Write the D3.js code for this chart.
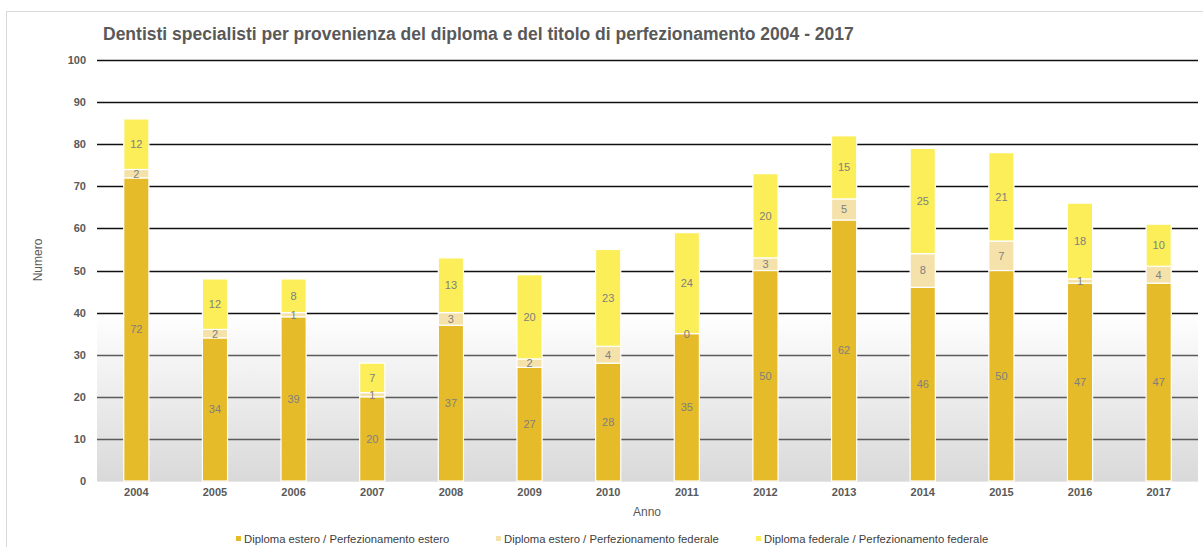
<!DOCTYPE html>
<html><head><meta charset="utf-8">
<script src="https://cdn.jsdelivr.net/npm/d3@7"></script>
<style>body{margin:0;background:#fff;} svg{display:block;font-family:"Liberation Sans",Arial,sans-serif;}</style>
</head><body>
<svg id="c" width="1203" height="547"></svg>
<script>
const years = ["2004","2005","2006","2007","2008","2009","2010","2011","2012","2013","2014","2015","2016","2017"];
const esteroEstero = [72,34,39,20,37,27,28,35,50,62,46,50,47,47];
const esteroFederale = [2,2,1,1,3,2,4,0,3,5,8,7,1,4];
const federaleFederale = [12,12,8,7,13,20,23,24,20,15,25,21,18,10];
const seriesNames = ["Diploma estero / Perfezionamento estero","Diploma estero / Perfezionamento federale","Diploma federale / Perfezionamento federale"];
const colors = ["#E5BB29","#F4E2AA","#FBEE58"];
const yTicks = [0,10,20,30,40,50,60,70,80,90,100];

(function(){
const svg = d3.select("#c");
const pL = 97, pR = 1198, pT = 60, pB = 481;

svg.append("rect").attr("x",6.5).attr("y",11.5).attr("width",1200).attr("height",560)
  .attr("fill","#fff").attr("stroke","#d9d9d9");

const defs = svg.append("defs");
const g = defs.append("linearGradient").attr("id","bg").attr("x1",0).attr("y1",0).attr("x2",0).attr("y2",1);
g.append("stop").attr("offset","0").attr("stop-color","#fff");
g.append("stop").attr("offset","0.6").attr("stop-color","#fff");
g.append("stop").attr("offset","1").attr("stop-color","#d9d9d9");

const x = d3.scaleBand().domain(years).range([pL,pR]).paddingInner(0.68).paddingOuter(0.34);
const y = d3.scaleLinear().domain([0,100]).range([pB,pT]);

svg.append("rect").attr("x",pL).attr("y",pT).attr("width",pR-pL).attr("height",pB-pT).attr("fill","url(#bg)");

svg.append("g").selectAll("line").data(yTicks).join("line")
  .attr("x1",pL).attr("x2",pR)
  .attr("y1",d=>Math.round(y(d))+0.5).attr("y2",d=>Math.round(y(d))+0.5)
  .attr("stroke",d=>d===0?"#e6e6e6":(d<=30?"#5a5a5a":"#111"))
  .attr("stroke-width",d=>d===0?1:1.3);

const yAxis = d3.axisLeft(y).tickValues(yTicks).tickSize(0).tickPadding(0);
const ya = svg.append("g").attr("transform",`translate(86,0)`).call(yAxis);
ya.select(".domain").remove();
ya.selectAll("text").attr("font-size",11).attr("font-weight","bold").attr("fill","#595959").attr("font-family","Liberation Sans, Arial, sans-serif");

const xAxis = d3.axisBottom(x).tickSize(0).tickPadding(0);
const xa = svg.append("g").attr("transform",`translate(0,488)`).call(xAxis);
xa.select(".domain").remove();
xa.selectAll("text").attr("font-size",11).attr("font-weight","bold").attr("fill","#595959").attr("font-family","Liberation Sans, Arial, sans-serif");

const table = years.map((yr,i)=>({year:yr, s0:esteroEstero[i], s1:esteroFederale[i], s2:federaleFederale[i]}));
const stack = d3.stack().keys(["s0","s1","s2"])(table);
const layers = svg.append("g").selectAll("g").data(stack).join("g").attr("fill",(d,i)=>colors[i]);
layers.selectAll("rect").data(d=>d).join("rect")
  .attr("x",d=>x(d.data.year)).attr("width",x.bandwidth())
  .attr("y",d=>y(d[1])).attr("height",d=>y(d[0])-y(d[1]))
  .attr("stroke","#fff").attr("stroke-width",1.2);

const lab = svg.append("g");
stack.forEach(layer=>{
  layer.forEach(d=>{
    lab.append("text").attr("x",x(d.data.year)+x.bandwidth()/2)
      .attr("y",(y(d[0])+y(d[1]))/2).attr("dy","0.35em")
      .attr("text-anchor","middle").attr("font-size",11).attr("fill","#7f7f7f")
      .text(d[1]-d[0]);
  });
});

svg.append("text").attr("x",103).attr("y",39.5).attr("font-size",17.5).attr("font-weight","bold").attr("fill","#595959")
  .text("Dentisti specialisti per provenienza del diploma e del titolo di perfezionamento 2004 - 2017");

svg.append("text").attr("transform","translate(42,260) rotate(-90)").attr("text-anchor","middle")
  .attr("font-size",12).attr("fill","#595959").text("Numero");
svg.append("text").attr("x",647).attr("y",516).attr("text-anchor","middle")
  .attr("font-size",12).attr("fill","#595959").text("Anno");

const legX = [236,496,756];
const leg = svg.append("g").selectAll("g").data(seriesNames).join("g")
  .attr("transform",(d,i)=>`translate(${legX[i]},539)`);
leg.append("rect").attr("x",0).attr("y",-3).attr("width",5).attr("height",5).attr("fill",(d,i)=>colors[i]);
leg.append("text").attr("x",8).attr("y",0).attr("dy","0.35em").attr("font-size",11.3).attr("fill","#404040").text(d=>d);
})();
</script>
</body></html>
